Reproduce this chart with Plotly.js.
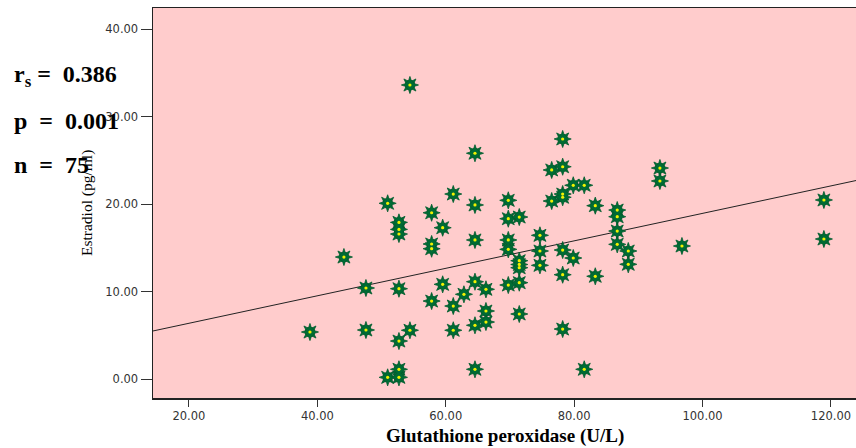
<!DOCTYPE html>
<html>
<head>
<meta charset="utf-8">
<script src="https://cdn.plot.ly/plotly-3.0.1.min.js"></script>
<style>html,body{margin:0;padding:0;background:#fff;}#chart{width:856px;height:448px;}</style>
</head>
<body>
<div id="chart"></div>
<script>
// Glutathione peroxidase (U/L)
const gpx = [38.85,44.14,47.57,47.57,50.95,50.95,52.71,52.71,52.71,52.71,52.71,52.71,52.71,54.42,54.42,
  57.8,57.8,57.8,57.8,59.52,59.52,61.17,61.17,61.17,62.83,64.55,64.55,64.55,64.55,64.55,64.55,
  66.26,66.26,66.26,69.74,69.74,69.74,69.74,69.74,71.45,71.45,71.45,71.45,71.45,71.45,
  74.67,74.67,74.67,76.5,76.5,78.21,78.21,78.21,78.21,78.21,78.21,78.21,79.86,79.86,81.57,81.57,
  83.29,83.29,86.71,86.71,86.71,86.71,88.43,88.43,93.36,93.36,96.79,118.9,118.9];
// Estradiol (pg/ml)
const estradiol = [5.37,13.94,10.4,5.6,20.08,0.19,17.9,17.1,16.57,10.32,4.34,1.11,0.19,5.57,33.6,
  19.0,15.43,14.89,8.91,17.29,10.82,21.14,8.34,5.57,9.68,25.8,19.89,15.89,11.12,6.14,1.11,
  10.25,7.77,6.51,20.42,18.32,15.89,14.82,10.74,18.51,13.52,13.09,12.72,11.01,7.43,
  16.42,14.63,12.99,23.89,20.34,27.43,24.26,21.14,20.77,14.74,11.92,5.71,22.14,13.83,22.14,1.11,
  19.81,11.74,19.31,18.55,16.91,15.39,14.63,13.11,24.11,22.63,15.2,20.46,16.0];
// Fit line
const fitIntercept = 3.23;
const fitSlope = 0.157;
const xRange = [14.4, 123.9];
const yRange = [-2.17, 42.4];
const tickVals = [0, 10, 20, 30, 40];
const tickText = ["0.00", "10.00", "20.00", "30.00", "40.00"];
const xTickVals = [20, 40, 60, 80, 100, 120];
const xTickText = ["20.00", "40.00", "60.00", "80.00", "100.00", "120.00"];
const stats = ["r<sub>s</sub>\u00A0=\u00A0\u00A00.386", "p\u00A0\u00A0=\u00A0\u00A00.001", "n\u00A0\u00A0=\u00A0\u00A075"];

const fitX = xRange.slice();
const fitY = fitX.map(x => fitIntercept + fitSlope * x);

const green = '#006b35';
const traces = [
  {x: fitX, y: fitY, mode: 'lines', line: {color: '#222', width: 1}, hoverinfo: 'skip'},
  {x: gpx, y: estradiol, mode: 'markers', marker: {symbol: 'star-square', size: 11, color: green, angle: 0, line: {width: 0.8, color: '#005a2c'}}},
  {x: gpx, y: estradiol, mode: 'markers', marker: {symbol: 'star-square', size: 11, color: green, angle: 45, line: {width: 0.8, color: '#005a2c'}}},
  {x: gpx, y: estradiol, mode: 'markers', marker: {symbol: 'circle', size: 8, color: green, line: {width: 0}}},
  {x: gpx, y: estradiol, mode: 'markers', marker: {symbol: 'circle', size: 3.2, color: '#f2f200', line: {width: 0}}}
];

const annFont = {family: 'Liberation Serif, Times New Roman, serif', size: 24, color: '#000'};
const annotations = stats.map((t, i) => ({
  text: '<b>' + t + '</b>', xref: 'paper', yref: 'paper', x: (12 - 153) / 703, xanchor: 'left',
  y: 1 - ([76, 121, 165][i] - 8) / 390, yanchor: 'middle', showarrow: false, font: annFont
}));
annotations.push({
  text: 'Estradiol (pg/ml)', xref: 'paper', yref: 'paper', x: (87 - 153) / 703, xanchor: 'center',
  y: 0.5, yanchor: 'middle', textangle: -90, showarrow: false,
  font: {family: 'Liberation Serif, Times New Roman, serif', size: 15.5, color: '#000'}
});
annotations.push({
  text: '<b>Glutathione peroxidase (U/L)</b>', xref: 'paper', yref: 'paper', x: 0.5, xanchor: 'center',
  y: -(436 - 398) / 390, yanchor: 'middle', showarrow: false,
  font: {family: 'Liberation Serif, Times New Roman, serif', size: 19, color: '#000'}
});

const tickFont = {family: 'DejaVu Sans, Verdana, sans-serif', size: 11.5, color: '#333'};
const layout = {
  width: 856, height: 448,
  margin: {l: 153, r: 0, t: 8, b: 50, pad: 0},
  paper_bgcolor: '#ffffff', plot_bgcolor: '#ffcccc',
  showlegend: false,
  xaxis: {range: xRange, tickvals: xTickVals, ticktext: xTickText, ticks: 'outside', ticklen: 7,
    tickcolor: '#333', tickwidth: 1, showgrid: false, zeroline: false, showline: true, linecolor: '#222',
    linewidth: 1.5, mirror: true, tickfont: tickFont, fixedrange: true},
  yaxis: {range: yRange, tickvals: tickVals, ticktext: tickText, ticks: 'outside', ticklen: 11,
    tickcolor: '#333', tickwidth: 1, showgrid: false, zeroline: false, showline: true, linecolor: '#222',
    linewidth: 1.5, mirror: false, tickfont: tickFont, fixedrange: true},
  annotations: annotations
};
Plotly.newPlot('chart', traces, layout, {displayModeBar: false, staticPlot: true});
</script>
</body>
</html>
